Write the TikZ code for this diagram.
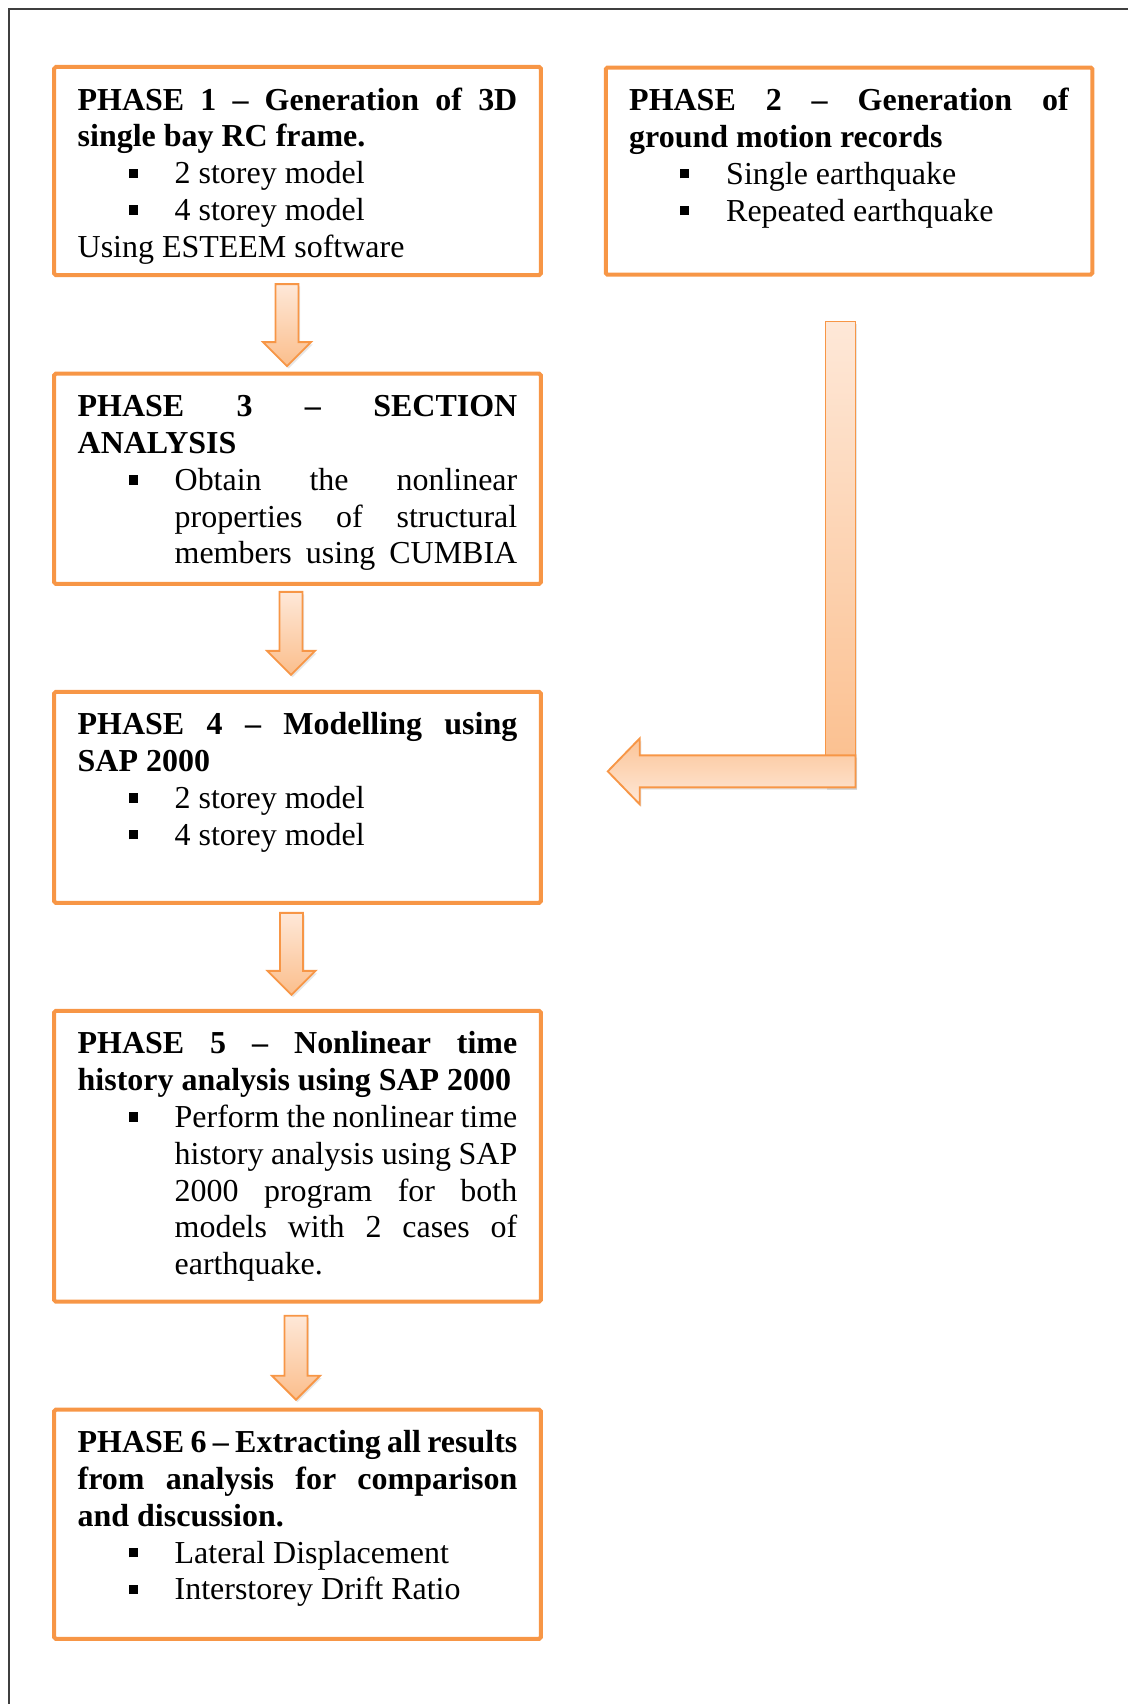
\documentclass[tikz,border=0pt]{standalone}
\usepackage{fontspec}
\setmainfont{Liberation Serif}
\usetikzlibrary{positioning,calc,shadows}

\definecolor{orangeline}{HTML}{F79646}
\definecolor{peachlight}{HTML}{FEE8D8}
\definecolor{peachdark}{HTML}{FBBE8C}
\definecolor{pageline}{HTML}{3F3F3F}

\hyphenpenalty=10000
\exhyphenpenalty=10000
\tolerance=9999

% square bullet with hanging indent
\newcommand{\sqitem}{\par\hangindent=36.4pt\hangafter=0\noindent
\llap{\makebox[17.3pt][l]{\raisebox{2.2pt}{\rule{3.5pt}{3.5pt}}}}}

\begin{document}
\begin{tikzpicture}[
x=0.3753pt, y=-0.3753pt,
node distance=40.5pt,
phase/.style={
rectangle,
draw=orangeline,
line width=1.5pt,
rounded corners=0.6pt,
outer sep=0pt,
text width=165pt,
inner xsep=8.8pt,
inner ysep=0pt,
text height=16.2pt,
align=justify,
font=\fontsize{12}{13.8}\selectfont
},
blockarrow/.style={
draw=orangeline,
line width=0.7pt,
top color=peachlight,
bottom color=peachdark,
drop shadow={opacity=0.2, shadow xshift=0.6pt, shadow yshift=-0.9pt}
},
blockarrowup/.style={
blockarrow,
top color=peachdark!85!peachlight,
bottom color=peachlight
}
]
\useasboundingbox (0,0) rectangle (1128,1704);
\draw[pageline, line width=0.8pt] (9,1704) -- (9,9) -- (1128,9);

\node[phase, anchor=north, text depth=61.9pt] (p1) at (297.5,67) {{\bfseries PHASE 1 -- Generation of 3D\linebreak single bay RC frame.}\sqitem 2 storey model\sqitem 4 storey model\par Using ESTEEM software\par};
\node[phase, text depth=61.5pt, right=24.4pt of p1] (p2) {{\bfseries PHASE 2 -- Generation of\linebreak ground motion records}\sqitem Single earthquake\sqitem Repeated earthquake\par};
\node[phase, text depth=62.7pt, below=37pt of p1] (p3) {{\bfseries PHASE 3 -- SECTION\linebreak ANALYSIS}\sqitem Obtain the nonlinear\linebreak properties of structural\linebreak members using CUMBIA\parfillskip=0pt\par};
\node[phase, text depth=63pt, below=of p3] (p4) {{\bfseries PHASE 4 -- Modelling using\linebreak SAP 2000}\sqitem 2 storey model\sqitem 4 storey model\par};
\node[phase, text depth=93pt, below=of p4] (p5) {{\bfseries PHASE 5 -- Nonlinear time\linebreak history analysis using SAP 2000}\sqitem Perform the nonlinear time\linebreak history analysis using SAP\linebreak 2000 program for both\linebreak models with 2 cases of\linebreak earthquake.\par};
\node[phase, text depth=69.8pt, below=of p5] (p6) {{\bfseries PHASE 6 -- Extracting all results\linebreak from analysis for comparison\linebreak and discussion.}\sqitem Lateral Displacement\sqitem Interstorey Drift Ratio\par};

% block arrows down the left column
\draw[blockarrow] ($(p1.south)+(-22,9)$) -- ++(23,0) -- ++(0,58) -- ++(12.5,0) -- ++(-24,24) -- ++(-24,-24) -- ++(12.5,0) -- cycle;
\draw[blockarrow] ($(p3.south)+(-18,8)$) -- ++(23,0) -- ++(0,59) -- ++(12.5,0) -- ++(-24,24) -- ++(-24,-24) -- ++(12.5,0) -- cycle;
\draw[blockarrow] ($(p4.south)+(-17.5,10)$) -- ++(23,0) -- ++(0,58) -- ++(12.5,0) -- ++(-24,24) -- ++(-24,-24) -- ++(12.5,0) -- cycle;
\draw[blockarrow] ($(p5.south)+(-13,14)$) -- ++(23,0) -- ++(0,60) -- ++(12.5,0) -- ++(-24,24) -- ++(-24,-24) -- ++(12.5,0) -- cycle;

% bent arrow from phase 2 into phase 4
\coordinate (ltop) at ($(p2.south)+(-8.5,47)$);
\coordinate (ltip) at ($(p4.east)+(67,-26)$);
\coordinate (lbend) at (ltop |- ltip);
\draw[blockarrow] ($(ltop)+(-15,0)$) rectangle ($(lbend)+(15,16)$);
\draw[blockarrowup] ($(lbend)+(15,-16)$) -- ($(ltip)+(32,-16)$) -- ($(ltip)+(32,-33)$) -- (ltip) -- ($(ltip)+(32,33)$) -- ($(ltip)+(32,16)$) -- ($(lbend)+(15,16)$) -- cycle;
\end{tikzpicture}
\end{document}
